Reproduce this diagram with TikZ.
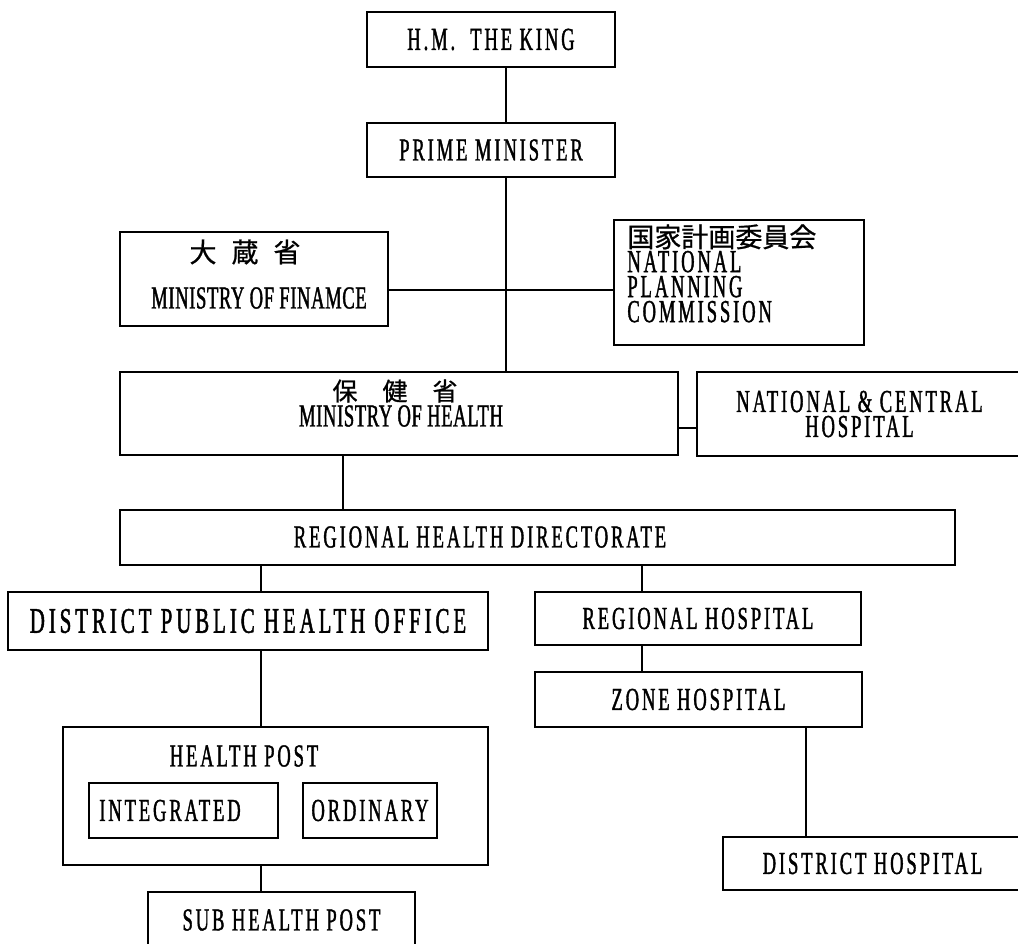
\documentclass[tikz,border=0pt]{standalone}
\usepackage{fontspec}
\newfontfamily\chartfont{Liberation Serif}[FakeStretch=0.58,LetterSpace=9,FakeBold=1.2]
\newfontfamily\jpfont{Noto Sans CJK JP}[FakeBold=0.8]
\usepackage{tikz}
\tikzstyle{orgbox}=[draw,line width=0.9pt,inner sep=0pt,font=\chartfont\fontsize{16}{12.5}\selectfont]
\tikzstyle{orgtext}=[inner sep=0pt,font=\chartfont\fontsize{16}{12.5}\selectfont]
\tikzstyle{orgline}=[line width=0.9pt]

\begin{document}
\begin{tikzpicture}[x=0.5pt,y=-0.5pt]
        \useasboundingbox (0,0) rectangle (1018,943);
        \coordinate (trunk) at (506,290);
        \coordinate (mohdrop) at (343,0);
        \coordinate (leftdrop) at (261,0);
        \coordinate (rightdrop) at (642,0);
        \coordinate (zonedrop) at (806,0);
        \coordinate (nchlink) at (0,428);
        % top of the chart
        \node[orgbox,minimum width=124pt,minimum height=27.5pt] (king) at (491,39.5) {H.M.\ \ THE KING};
        \node[orgbox,minimum width=124pt,minimum height=27pt] (pm) at (491,150) {PRIME MINISTER};
        \node[orgbox,minimum width=134pt,minimum height=47pt] (mof) at (254,279) {};
        \node[orgtext,font=\jpfont\fontsize{13.5}{14}\selectfont] (mofjp) at (245,252) {大\hspace{7.5pt}蔵\hspace{7.5pt}省};
        \node[orgtext] (mofen) at (259,298) {\addfontfeature{LetterSpace=2}MINISTRY OF FINAMCE};
        \node[orgbox,minimum width=125pt,minimum height=62.5pt] (npc) at (739,282.5) {};
        \node[orgtext,anchor=north west,align=left] (npctext) at (627,224)
            {{\jpfont\fontsize{13.5}{14}\selectfont 国家計画委員会}\\NATIONAL\\PLANNING\\COMMISSION};
        % ministry level
        \node[orgbox,minimum width=279pt,minimum height=41.5pt] (moh) at (399,413.5) {};
        \node[orgtext,font=\jpfont\fontsize{12.5}{14}\selectfont] (mohjp) at (395,391) {保\hspace{12.5pt}健\hspace{12.5pt}省};
        \node[orgtext] (mohen) at (401,416) {\addfontfeature{LetterSpace=2}MINISTRY OF HEALTH};
        \node[orgbox,minimum width=162.5pt,minimum height=42pt,align=center] (nch) at (859.5,414)
            {NATIONAL \& CENTRAL\\HOSPITAL};
        \node[orgbox,minimum width=417.5pt,minimum height=27.5pt] (rhd) at (537.5,537.5) {};
        \node[orgtext] (rhdtext) at (480,537) {REGIONAL HEALTH DIRECTORATE};
        % district level
        \node[orgbox,minimum width=240pt,minimum height=29pt] (dpho) at (248,621) {\fontsize{18}{14}\selectfont\addfontfeature{LetterSpace=11}DISTRICT PUBLIC HEALTH OFFICE};
        \node[orgbox,minimum width=163pt,minimum height=26.5pt] (rh) at (698,618.5) {REGIONAL HOSPITAL};
        \node[orgbox,minimum width=163.5pt,minimum height=27.5pt] (zh) at (698.5,699.5) {ZONE HOSPITAL};
        \node[orgbox,minimum width=149.5pt,minimum height=26.5pt] (dh) at (872.5,863.5) {DISTRICT HOSPITAL};
        \node[orgbox,minimum width=212.5pt,minimum height=69pt] (hp) at (275.5,796) {};
        \node[orgtext] (hptext) at (244,756) {HEALTH POST};
        \node[orgbox,minimum width=94.5pt,minimum height=27.5pt] (integ) at (183.5,810.5) {};
        \node[orgtext] (integtext) at (170,810.5) {INTEGRATED};
        \node[orgbox,minimum width=67pt,minimum height=27.5pt] (ordin) at (370,810.5) {ORDINARY};
        \node[orgbox,minimum width=133.5pt,minimum height=28pt] (shp) at (281.5,920) {SUB HEALTH POST};
        % connectors
        \draw[orgline] (king.south -| trunk) -- (pm.north -| trunk);
        \draw[orgline] (pm.south -| trunk) -- (moh.north -| trunk);
        \draw[orgline] (mof.east |- trunk) -- (npc.west |- trunk);
        \draw[orgline] (moh.east |- nchlink) -- (nch.west |- nchlink);
        \draw[orgline] (moh.south -| mohdrop) -- (rhd.north -| mohdrop);
        \draw[orgline] (rhd.south -| leftdrop) -- (dpho.north -| leftdrop);
        \draw[orgline] (rhd.south -| rightdrop) -- (rh.north -| rightdrop);
        \draw[orgline] (dpho.south -| leftdrop) -- (hp.north -| leftdrop);
        \draw[orgline] (hp.south -| leftdrop) -- (shp.north -| leftdrop);
        \draw[orgline] (rh.south -| rightdrop) -- (zh.north -| rightdrop);
        \draw[orgline] (zh.south -| zonedrop) -- (dh.north -| zonedrop);
\end{tikzpicture}
\end{document}
